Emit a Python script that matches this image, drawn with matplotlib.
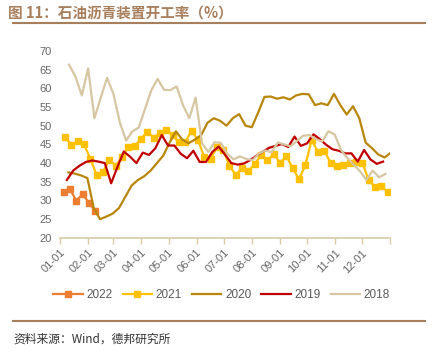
import matplotlib
matplotlib.use("Agg")
import matplotlib.pyplot as plt
import numpy as np

plt.rcParams['font.family'] = ['Liberation Sans', 'Noto Sans CJK SC', 'DejaVu Sans']

# weekly readings, first reading day-of-year per year
month_ticks = [0, 31, 59, 90, 120, 151, 181, 212, 243, 273, 304, 334, 365]
month_labels = ['01-01', '02-01', '03-01', '04-01', '05-01', '06-01',
                '07-01', '08-01', '09-01', '10-01', '11-01', '12-01', '']

start_2022 = 4
start_2021 = 5.5
start_2020 = 9.2
start_2019 = 7.5
start_2018 = 10

rate_2022 = [32.4, 33.0, 29.9, 31.8, 29.3, 27.2]
rate_2021 = [46.9, 44.9, 45.8, 45.0, 41.1, 36.8, 37.6, 40.9, 39.3, 41.6,
             44.4, 44.6, 46.4, 48.4, 46.8, 48.0, 48.9, 47.5, 45.6, 45.6,
             48.7, 46.2, 41.7, 41.1, 44.2, 43.5, 39.3, 36.8, 38.8, 37.9,
             39.8, 42.2, 40.7, 42.5, 40.0, 41.9, 38.6, 35.7, 39.5, 46.2,
             42.9, 43.3, 40.0, 39.3, 39.5, 40.1, 40.2, 40.1, 35.5, 33.7,
             33.9, 32.3]
rate_2020 = [37.5, 37.2, 36.7, 36.0, 28.0, 25.0, 25.7, 26.5, 28.0, 31.0,
             34.0, 35.5, 36.5, 38.0, 40.0, 42.0, 45.5, 48.5, 46.3, 45.3,
             46.3, 47.5, 50.8, 52.0, 51.3, 50.0, 52.0, 53.1, 50.0, 49.6,
             53.5, 57.7, 57.8, 57.2, 57.6, 57.0, 58.1, 58.5, 58.4, 55.5,
             56.0, 55.5, 58.5, 55.5, 53.0, 55.2, 52.0, 45.5, 44.0, 42.3,
             41.5, 42.8]
rate_2019 = [35.5, 38.0, 39.3, 40.3, 40.7, 40.4, 40.0, 34.6, 39.0, 43.1,
             41.7, 40.0, 42.8, 42.2, 44.0, 47.5, 44.7, 44.7, 42.5, 41.3,
             43.3, 40.3, 40.3, 43.0, 44.4, 42.3, 40.0, 39.6, 39.9, 40.8,
             42.0, 43.1, 44.1, 44.6, 45.1, 44.3, 47.1, 44.6, 45.3, 47.7,
             46.4, 44.9, 43.7, 43.3, 42.6, 42.6, 40.4, 43.5, 41.0, 39.8,
             40.4]
rate_2018 = [66.3, 63.1, 58.1, 65.3, 52.0, 57.5, 62.8, 58.5, 51.0, 46.0,
             48.5, 49.5, 54.5, 59.5, 62.5, 59.6, 59.5, 60.5, 55.5, 52.0,
             57.5, 45.3, 43.0, 45.6, 45.4, 42.5, 41.0, 41.8, 41.1, 40.8,
             42.5, 43.4, 42.9, 45.5, 45.0, 44.5, 45.9, 47.3, 47.5, 46.4,
             45.8, 48.5, 47.6, 43.5, 41.3, 39.6, 37.8, 35.5, 38.0, 36.2,
             37.1]


def weeks(start, values):
    return start + 7 * np.arange(len(values))


fig = plt.figure(figsize=(4.42, 3.61), dpi=100)
ax = fig.add_axes([0.136, 0.341, 0.746, 0.518])

ax.plot(weeks(start_2022, rate_2022), rate_2022, color='#ED7D31', lw=1.6,
        marker='s', ms=4.8, label='2022')
ax.plot(weeks(start_2021, rate_2021), rate_2021, color='#FFC000', lw=1.6,
        marker='s', ms=4.8, label='2021')
ax.plot(weeks(start_2020, rate_2020), rate_2020, color='#B8860B', lw=1.6,
        label='2020')
ax.plot(weeks(start_2019, rate_2019), rate_2019, color='#C00000', lw=1.6,
        label='2019')
ax.plot(weeks(start_2018, rate_2018), rate_2018, color='#D6C6A2', lw=1.6,
        label='2018')

ax.set_xlim(0, 365)
ax.set_ylim(20, 70)
ax.set_yticks(np.arange(20, 71, 5))
ax.set_xticks(month_ticks)
ax.set_xticklabels(month_labels, rotation=45, ha='right', rotation_mode='anchor')

for s in ['top', 'right', 'left']:
    ax.spines[s].set_visible(False)
ax.spines['bottom'].set_color('#D9CBA8')
ax.spines['bottom'].set_linewidth(1.2)
ax.tick_params(axis='y', length=0, labelsize=8, labelcolor='#666666', pad=6)
ax.tick_params(axis='x', length=4, color='#D9CBA8', width=1,
               labelsize=8, labelcolor='#666666', pad=3)

ax.legend(loc='center', bbox_to_anchor=(0.49, -0.305), ncol=5,
          frameon=False, fontsize=8.5, labelcolor='#595959',
          handlelength=2.5, columnspacing=0.85, handletextpad=0.3,
          borderaxespad=0)

fig.text(0.018, 0.965, '图 11：石油沥青装置开工率（%）', fontsize=10.5, fontweight='bold',
         color='#A87F5C', family=['Noto Sans CJK SC', 'DejaVu Sans'], va='center')
fig.add_artist(plt.Line2D([0.03, 0.962], [0.935, 0.935], color='#A87F5C', lw=1.5))
fig.add_artist(plt.Line2D([0.03, 0.962], [0.112, 0.112], color='#A87F5C', lw=1.5))
fig.text(0.03, 0.061, '资料来源：Wind，德邦研究所', fontsize=8.5, color='#333333',
         family=['Noto Sans CJK SC', 'DejaVu Sans'], va='center')

fig.savefig('out.png', dpi=100)
